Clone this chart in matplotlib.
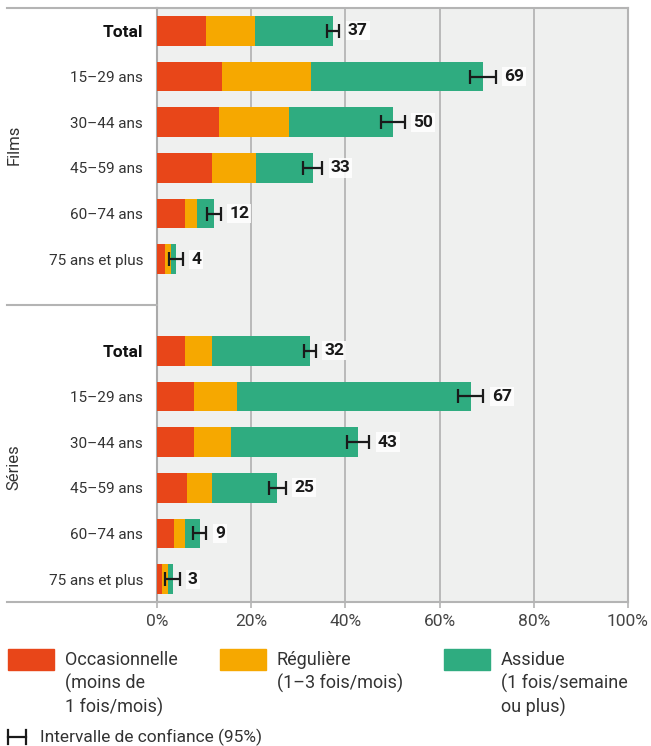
import matplotlib
matplotlib.use("Agg")
import matplotlib.pyplot as plt
from matplotlib.lines import Line2D
import numpy as np

plt.rcParams['font.family'] = ['Roboto', 'DejaVu Sans']

categories = ["Total", "15–29 ans", "30–44 ans", "45–59 ans", "60–74 ans", "75 ans et plus"]
groups = ["Films", "Séries"]

films_occ = [10.4, 13.8, 13.2, 11.7, 5.9, 1.7]
films_reg = [10.4, 18.9, 14.8, 9.3, 2.6, 1.3]
films_ass = [16.6, 36.5, 22.1, 12.1, 3.6, 1.0]
films_total = [37, 69, 50, 33, 12, 4]
films_err = [1.3, 2.7, 2.5, 2.0, 1.5, 1.5]

series_occ = [5.9, 7.8, 7.8, 6.4, 3.6, 1.1]
series_reg = [5.8, 9.2, 7.9, 5.3, 2.3, 1.2]
series_ass = [20.8, 49.6, 27.0, 13.8, 3.2, 1.0]
series_total = [32, 67, 43, 25, 9, 3]
series_err = [1.3, 2.7, 2.4, 1.8, 1.4, 1.5]

xticks = [0, 20, 40, 60, 80, 100]
xticklabels = ["0%", "20%", "40%", "60%", "80%", "100%"]

legend_labels = ["Occasionnelle\n(moins de\n1 fois/mois)",
                 "Régulière\n(1–3 fois/mois)",
                 "Assidue\n(1 fois/semaine\nou plus)"]
ci_label = "Intervalle de confiance (95%)"

c_occ = "#e84619"
c_reg = "#f6a800"
c_ass = "#2fac80"
txt = "#333333"
gray = "#b4b4b4"

W, H = 651, 746
fig = plt.figure(figsize=(W / 100, H / 100), dpi=100)
ax = fig.add_axes([157 / W, 1 - 602 / H, (628 - 157) / W, (602 - 8) / H])
ax.set_facecolor("#eff0ef")

def draw_group(y0, occ, reg, ass, tot, err):
    ys = np.arange(len(occ)) + y0
    occ = np.array(occ); reg = np.array(reg); ass = np.array(ass)
    ax.barh(ys, occ, height=0.65, color=c_occ, zorder=3)
    ax.barh(ys, reg, left=occ, height=0.65, color=c_reg, zorder=3)
    ax.barh(ys, ass, left=occ + reg, height=0.65, color=c_ass, zorder=3)
    ends = occ + reg + ass
    ax.errorbar(ends, ys, xerr=err, fmt="none", ecolor="#1a1a1a",
                elinewidth=1.6, capsize=5, capthick=1.6, zorder=4)
    for y, e, t, er in zip(ys, ends, tot, err):
        ax.annotate(str(t), (e + er, y), xytext=(6, 0), textcoords="offset points",
                    ha="left", va="center", fontsize=12.5, fontweight="bold",
                    color="#1a1a1a", zorder=5,
                    bbox=dict(boxstyle="square,pad=0.12", fc="white", ec="none", alpha=0.85))
    return ys

ys1 = draw_group(0, films_occ, films_reg, films_ass, films_total, films_err)
ys2 = draw_group(7, series_occ, series_reg, series_ass, series_total, series_err)

ax.set_ylim(12.5, -0.5)
ax.set_xlim(0, 100)
ax.set_xticks(xticks)
ax.set_xticklabels(xticklabels, fontsize=12.5, color="#444444")
ax.tick_params(axis="x", length=4, color=gray, width=1.2, pad=5)
ax.set_yticks(list(ys1) + list(ys2))
ylabels = categories + categories
ax.set_yticklabels(ylabels, fontsize=11, color=txt)
for lbl in ax.get_yticklabels():
    if lbl.get_text() == "Total":
        lbl.set_fontweight("bold")
        lbl.set_fontsize(12.5)
        lbl.set_color("#111111")
ax.tick_params(axis="y", length=0, pad=10)
ax.grid(axis="x", color="#b0b0b0", linewidth=1.2, zorder=1)
for s in ["left", "right", "top", "bottom"]:
    ax.spines[s].set_color(gray)
    ax.spines[s].set_linewidth(1.5)
ax.spines["left"].set_color("#aaaaaa")

def fline(x0, x1, y):
    fig.add_artist(Line2D([x0 / W, x1 / W], [1 - y / H, 1 - y / H],
                          color=gray, linewidth=1.5))

fline(7, 157, 7.5)
fline(7, 157, 305)
fline(7, 157, 602)

fig.text(14 / W, 1 - 145 / H, groups[0], rotation=90, ha="center", va="center",
         fontsize=12, color=txt)
fig.text(14 / W, 1 - 467 / H, groups[1], rotation=90, ha="center", va="center",
         fontsize=12, color=txt)

patches = [(8, c_occ, 65), (220, c_reg, 277), (444, c_ass, 501)]
for (px, col, tx), lab in zip(patches, legend_labels):
    fig.patches.append(matplotlib.patches.Rectangle((px / W, 1 - 670 / H), 46 / W, 21 / H,
                                                    transform=fig.transFigure, color=col))
    fig.text(tx / W, 1 - 651 / H, lab, ha="left", va="top", fontsize=13,
             color=txt, linespacing=1.32)

fig.add_artist(Line2D([8 / W, 26 / W], [1 - 737 / H, 1 - 737 / H], color="#1a1a1a", lw=1.6))
fig.add_artist(Line2D([8 / W, 8 / W], [1 - 730 / H, 1 - 744 / H], color="#1a1a1a", lw=1.6))
fig.add_artist(Line2D([26 / W, 26 / W], [1 - 730 / H, 1 - 744 / H], color="#1a1a1a", lw=1.6))
fig.text(40 / W, 1 - 737 / H, ci_label, ha="left", va="center", fontsize=12.5,
         color=txt)

fig.savefig("out.png", dpi=100, facecolor="white")
